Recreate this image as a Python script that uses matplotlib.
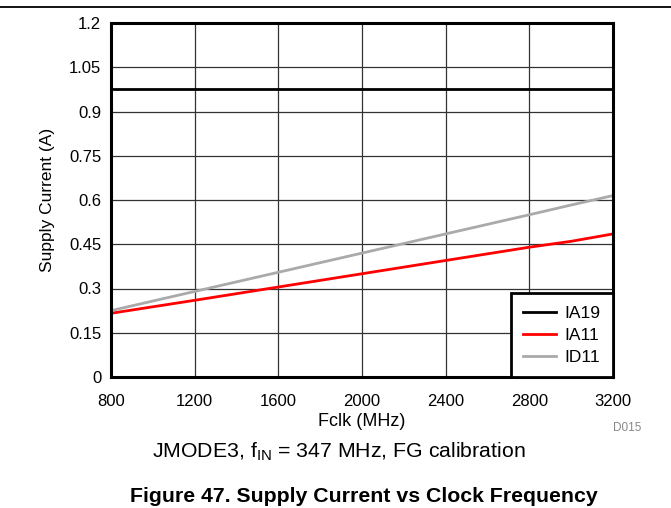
import numpy as np
import matplotlib.pyplot as plt

plt.rcParams['font.family'] = ['Liberation Sans', 'DejaVu Sans']

# Data
FCLK = [800, 1200, 1600, 2000, 2400, 2800, 3000, 3200]
IA19 = [0.975, 0.975, 0.975, 0.975, 0.975, 0.975, 0.975, 0.975]
IA11 = [0.216, 0.260, 0.305, 0.350, 0.395, 0.440, 0.460, 0.485]
ID11 = [0.225, 0.290, 0.355, 0.420, 0.485, 0.550, 0.583, 0.615]

X_TICKS = [800, 1200, 1600, 2000, 2400, 2800, 3200]
Y_TICKS = [0, 0.15, 0.3, 0.45, 0.6, 0.75, 0.9, 1.05, 1.2]
Y_LABELS = ["0", "0.15", "0.3", "0.45", "0.6", "0.75", "0.9", "1.05", "1.2"]

fig = plt.figure(figsize=(6.71, 5.08), dpi=100)
ax = fig.add_axes([111/671, 1 - 377/508, (613-111)/671, (377-23)/508])

ax.plot(FCLK, IA19, color="black", lw=2, label="IA19")
ax.plot(FCLK, IA11, color="#ff0000", lw=2, label="IA11")
ax.plot(FCLK, ID11, color="#aaaaaa", lw=2, label="ID11")

ax.set_xlim(800, 3200)
ax.set_ylim(0, 1.2)
ax.set_xticks(X_TICKS)
ax.set_yticks(Y_TICKS)
ax.set_yticklabels(Y_LABELS)
ax.tick_params(labelsize=12, length=0)
ax.tick_params(axis="x", pad=12)
ax.tick_params(axis="y", pad=7)
ax.grid(True, color="#333333", lw=0.9)
ax.set_axisbelow(True)
for s in ax.spines.values():
    s.set_linewidth(2.2)

ax.set_xlabel("Fclk (MHz)", fontsize=13, labelpad=3)
ax.set_ylabel("Supply Current (A)", fontsize=12.5, labelpad=10)

leg = ax.legend(loc="lower right", fontsize=12.5, frameon=True, fancybox=False,
                borderaxespad=0, handlelength=1.9, handletextpad=0.5,
                labelspacing=0.4, borderpad=0.7)
leg.get_frame().set_edgecolor("black")
leg.get_frame().set_linewidth(2)
leg.get_frame().set_alpha(1)

fig.add_artist(plt.Line2D([0, 1], [1 - 7/508, 1 - 7/508], color="black", lw=1.3))
fig.text(627/671, 1 - 428/508, "D015", fontsize=8.5, color="#888888", ha="center", va="center")
fig.text(339/671, 1 - 452/508, r"JMODE3, f$_{\mathregular{IN}}$ = 347 MHz, FG calibration",
         fontsize=15.3, ha="center", va="center")
fig.text(364/671, 1 - 496/508, "Figure 47. Supply Current vs Clock Frequency",
         fontsize=15.3, fontweight="bold", ha="center", va="center")

fig.savefig("out.png", dpi=100)
